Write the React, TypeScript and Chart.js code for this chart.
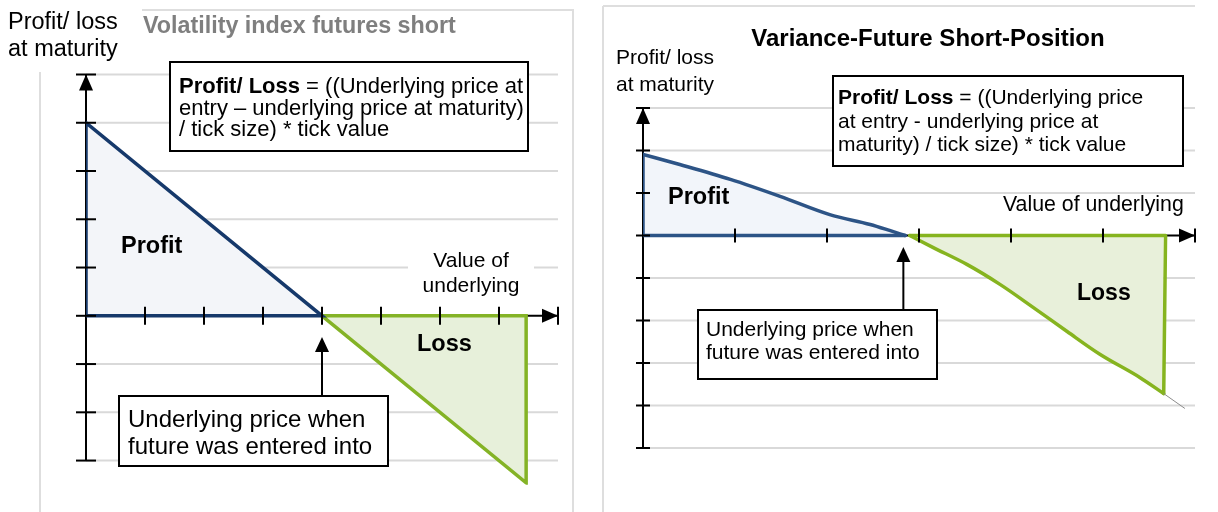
import React, { useEffect, useRef } from "react";
import { Chart, registerables } from "chart.js";

Chart.register(...registerables);

// ---------- Left panel: Volatility index futures short ----------
const leftProfitX = [0, 0, 4, 0];
const leftProfitY = [0, 4, 0, 0];
const leftLossX = [4, 7.46, 7.46, 4];
const leftLossY = [0, 0, -3.46, 0];
const leftYTicks = [5, 4, 3, 2, 1, 0, -1, -2, -3];
const leftXTicks = [1, 2, 3, 4, 5, 6, 7];
const leftEntry = 4;

// ---------- Right panel: Variance-Future Short-Position ----------
const rightProfitCurveX = [0, 0.4, 0.95, 1.49, 2.03, 2.47, 2.68, 2.85];
const rightProfitCurveY = [1.91, 1.67, 1.32, 0.92, 0.49, 0.26, 0.12, 0];
const rightProfitEdgeX = [2.85, 0, 0];
const rightProfitEdgeY = [0, 0, 1.91];
const rightLossCurveX = [2.9, 3.15, 3.52, 3.88, 4.24, 4.61, 4.97, 5.4, 5.66];
const rightLossCurveY = [0, -0.28, -0.68, -1.15, -1.69, -2.26, -2.8, -3.34, -3.72];
const rightLossEdgeX = [2.9, 5.68, 5.66];
const rightLossEdgeY = [0, 0, -3.72];
const rightTailX = [5.66, 5.89];
const rightTailY = [-3.72, -4.07];
const rightYTicks = [3, 2, 1, 0, -1, -2, -3, -4, -5];
const rightXTicks = [1, 2, 3, 4, 5];
const rightEntry = 2.83;

const FONT = '"Liberation Sans", Arial, Helvetica, sans-serif';

const pts = (xs: number[], ys: number[]) => xs.map((x, i) => ({ x, y: ys[i] }));

function line(ctx: CanvasRenderingContext2D, x1: number, y1: number, x2: number, y2: number) {
  ctx.beginPath();
  ctx.moveTo(x1, y1);
  ctx.lineTo(x2, y2);
  ctx.stroke();
}

function tri(ctx: CanvasRenderingContext2D, p: number[][]) {
  ctx.beginPath();
  ctx.moveTo(p[0][0], p[0][1]);
  ctx.lineTo(p[1][0], p[1][1]);
  ctx.lineTo(p[2][0], p[2][1]);
  ctx.closePath();
  ctx.fill();
}

type Run = { t: string; bold?: boolean };
type TextLine = { runs: Run[]; x: number; y: number; size: number; color?: string; align?: CanvasTextAlign };

function drawText(ctx: CanvasRenderingContext2D, l: TextLine) {
  ctx.textBaseline = "middle";
  ctx.fillStyle = l.color || "#000";
  if (l.align === "center") {
    ctx.textAlign = "center";
    ctx.font = `${l.runs[0].bold ? "bold " : ""}${l.size}px ${FONT}`;
    ctx.fillText(l.runs[0].t, l.x, l.y);
    return;
  }
  ctx.textAlign = "left";
  let x = l.x;
  for (const r of l.runs) {
    ctx.font = `${r.bold ? "bold " : ""}${l.size}px ${FONT}`;
    ctx.fillText(r.t, x, l.y);
    x += ctx.measureText(r.t).width;
  }
}

type Cfg = {
  borders: number[][];
  yTicks: number[];
  xTicks: number[];
  xEnd: number;
  yTickLen: number;
  xTickLen: number;
  gridWidth: number;
  entry: number;
  entryTipY: number;
  entryBoxTop: number;
  boxes: number[][];
  whiteRects: number[][];
  texts: TextLine[];
};

function makeDecor(cfg: Cfg) {
  return {
    id: "decor",
    beforeDatasetsDraw(chart: any) {
      const ctx: CanvasRenderingContext2D = chart.ctx;
      const xs = chart.scales.x;
      const ys = chart.scales.y;
      const x0 = xs.getPixelForValue(0);
      const xe = xs.getPixelForValue(cfg.xEnd);
      const y0 = ys.getPixelForValue(0);
      ctx.save();
      ctx.lineCap = "butt";
      ctx.strokeStyle = "#dedede";
      ctx.lineWidth = 2;
      for (const b of cfg.borders) line(ctx, b[0], b[1], b[2], b[3]);
      ctx.strokeStyle = "#d9d9d9";
      ctx.lineWidth = cfg.gridWidth;
      for (const v of cfg.yTicks) {
        if (v === 0) continue;
        const y = ys.getPixelForValue(v);
        line(ctx, x0, y, xe, y);
      }
      ctx.fillStyle = "#fff";
      for (const r of cfg.whiteRects) ctx.fillRect(r[0], r[1], r[2], r[3]);
      ctx.strokeStyle = "#000";
      ctx.lineWidth = 2;
      const yTop = ys.getPixelForValue(cfg.yTicks[0]);
      const yBot = ys.getPixelForValue(cfg.yTicks[cfg.yTicks.length - 1]);
      line(ctx, x0, yTop, x0, yBot);
      line(ctx, x0, y0, xe, y0);
      ctx.restore();
    },
    afterDatasetsDraw(chart: any) {
      const ctx: CanvasRenderingContext2D = chart.ctx;
      const xs = chart.scales.x;
      const ys = chart.scales.y;
      const x0 = xs.getPixelForValue(0);
      const xe = xs.getPixelForValue(cfg.xEnd);
      const y0 = ys.getPixelForValue(0);
      ctx.save();
      ctx.strokeStyle = "#000";
      ctx.fillStyle = "#000";
      ctx.lineWidth = 2;
      const yl = cfg.yTickLen;
      const xl = cfg.xTickLen;
      for (const v of cfg.yTicks) {
        const y = ys.getPixelForValue(v);
        line(ctx, x0 - yl, y, x0 + yl, y);
      }
      const yTop = ys.getPixelForValue(cfg.yTicks[0]);
      tri(ctx, [[x0, yTop], [x0 - 7, yTop + 16], [x0 + 7, yTop + 16]]);
      for (const v of cfg.xTicks) {
        const x = xs.getPixelForValue(v);
        line(ctx, x, y0 - xl, x, y0 + xl);
      }
      line(ctx, xe, y0 - xl, xe, y0 + xl);
      tri(ctx, [[xe, y0], [xe - 16, y0 - 7], [xe - 16, y0 + 7]]);
      const ex = xs.getPixelForValue(cfg.entry);
      line(ctx, ex, cfg.entryTipY + 12, ex, cfg.entryBoxTop);
      tri(ctx, [[ex, cfg.entryTipY], [ex - 7, cfg.entryTipY + 15], [ex + 7, cfg.entryTipY + 15]]);
      for (const b of cfg.boxes) {
        ctx.fillStyle = "#fff";
        ctx.fillRect(b[0], b[1], b[2] - b[0], b[3] - b[1]);
        ctx.strokeStyle = "#000";
        ctx.lineWidth = 2;
        ctx.strokeRect(b[0], b[1], b[2] - b[0], b[3] - b[1]);
      }
      for (const t of cfg.texts) drawText(ctx, t);
      ctx.restore();
    },
  };
}

function makeChart(
  canvas: HTMLCanvasElement,
  datasets: any[],
  xMax: number,
  yMin: number,
  yMax: number,
  padding: any,
  cfg: Cfg
) {
  return new Chart(canvas, {
    type: "line",
    data: { datasets },
    options: {
      responsive: false,
      animation: false,
      devicePixelRatio: 1,
      layout: { padding },
      plugins: { legend: { display: false }, tooltip: { enabled: false } },
      elements: { point: { radius: 0 }, line: { tension: 0 } },
      scales: {
        x: { type: "linear", min: 0, max: xMax, display: false },
        y: { type: "linear", min: yMin, max: yMax, display: false },
      },
    },
    plugins: [makeDecor(cfg)],
  });
}

export default function App() {
  const leftRef = useRef<HTMLCanvasElement>(null);
  const rightRef = useRef<HTMLCanvasElement>(null);

  useEffect(() => {
    const leftCfg: Cfg = {
      borders: [
        [142, 10, 574, 10],
        [573, 10, 573, 512],
        [40, 72, 40, 512],
      ],
      yTicks: leftYTicks,
      xTicks: leftXTicks,
      xEnd: 8,
      yTickLen: 10,
      xTickLen: 9,
      gridWidth: 2,
      entry: leftEntry,
      entryTipY: 337,
      entryBoxTop: 396,
      boxes: [
        [170, 62, 528, 151],
        [119, 396, 388, 466],
      ],
      whiteRects: [[408, 252, 126, 44]],
      texts: [
        { runs: [{ t: "Profit/ loss" }], x: 8, y: 23, size: 23.5 },
        { runs: [{ t: "at maturity" }], x: 8, y: 50, size: 23.5 },
        { runs: [{ t: "Volatility index futures short", bold: true }], x: 143, y: 27, size: 23.3, color: "#7f7f7f" },
        { runs: [{ t: "Profit/ Loss", bold: true }, { t: " = ((Underlying price at" }], x: 179, y: 87, size: 22 },
        { runs: [{ t: "entry \u2013 underlying price at maturity)" }], x: 179, y: 109, size: 22 },
        { runs: [{ t: "/ tick size) * tick value" }], x: 179, y: 130, size: 22 },
        { runs: [{ t: "Profit", bold: true }], x: 121, y: 247, size: 23.5 },
        { runs: [{ t: "Loss", bold: true }], x: 417, y: 345, size: 23.5 },
        { runs: [{ t: "Value of" }], x: 471, y: 261, size: 21, align: "center" },
        { runs: [{ t: "underlying" }], x: 471, y: 286, size: 21, align: "center" },
        { runs: [{ t: "Underlying price when" }], x: 128, y: 420, size: 24 },
        { runs: [{ t: "future was entered into" }], x: 128, y: 447, size: 24 },
      ],
    };

    const rightCfg: Cfg = {
      borders: [
        [8, 6, 600, 6],
        [8, 6, 8, 512],
      ],
      yTicks: rightYTicks,
      xTicks: rightXTicks,
      xEnd: 6,
      yTickLen: 7,
      xTickLen: 7,
      gridWidth: 2,
      entry: rightEntry,
      entryTipY: 247,
      entryBoxTop: 310,
      boxes: [
        [238, 76, 588, 166],
        [103, 310, 342, 379],
      ],
      whiteRects: [],
      texts: [
        { runs: [{ t: "Variance-Future Short-Position", bold: true }], x: 333, y: 39, size: 24, align: "center" },
        { runs: [{ t: "Profit/ loss" }], x: 21, y: 58, size: 21 },
        { runs: [{ t: "at maturity" }], x: 21, y: 85, size: 21 },
        { runs: [{ t: "Profit/ Loss", bold: true }, { t: " = ((Underlying price" }], x: 243, y: 98, size: 21 },
        { runs: [{ t: "at entry - underlying price at" }], x: 243, y: 122, size: 21 },
        { runs: [{ t: "maturity) / tick size) * tick value" }], x: 243, y: 145, size: 21 },
        { runs: [{ t: "Profit", bold: true }], x: 73, y: 198, size: 23.5 },
        { runs: [{ t: "Value of underlying" }], x: 408, y: 205, size: 21.3 },
        { runs: [{ t: "Loss", bold: true }], x: 482, y: 294, size: 23 },
        { runs: [{ t: "Underlying price when" }], x: 111, y: 330, size: 21 },
        { runs: [{ t: "future was entered into" }], x: 111, y: 353, size: 21 },
      ],
    };

    const left = makeChart(
      leftRef.current!,
      [
        {
          data: pts(leftProfitX, leftProfitY),
          borderColor: "#16396b",
          backgroundColor: "#f3f5f9",
          borderWidth: 3.5,
          fill: "shape",
          borderJoinStyle: "miter",
        },
        {
          data: pts(leftLossX, leftLossY),
          borderColor: "#84b326",
          backgroundColor: "#e7f0da",
          borderWidth: 3.5,
          fill: "shape",
          borderJoinStyle: "miter",
        },
      ],
      8,
      -3.5,
      5,
      { left: 86, right: 32, top: 74.5, bottom: 27.3 },
      leftCfg
    );

    const right = makeChart(
      rightRef.current!,
      [
        {
          data: pts(rightTailX, rightTailY),
          borderColor: "#8c8c8c",
          borderWidth: 1,
          fill: false,
        },
        {
          data: pts(rightProfitEdgeX, rightProfitEdgeY),
          borderColor: "#2d5486",
          borderWidth: 3.5,
          fill: false,
          borderJoinStyle: "round",
          borderCapStyle: "round",
        },
        {
          data: pts(rightProfitCurveX, rightProfitCurveY),
          borderColor: "#2d5486",
          backgroundColor: "#f2f5fa",
          borderWidth: 3.5,
          fill: "origin",
          cubicInterpolationMode: "monotone",
          borderCapStyle: "round",
        },
        {
          data: pts(rightLossEdgeX, rightLossEdgeY),
          borderColor: "#86b41f",
          borderWidth: 3.5,
          fill: false,
          borderJoinStyle: "round",
          borderCapStyle: "round",
        },
        {
          data: pts(rightLossCurveX, rightLossCurveY),
          borderColor: "#86b41f",
          backgroundColor: "#e8f0da",
          borderWidth: 3.5,
          fill: "origin",
          cubicInterpolationMode: "monotone",
          borderCapStyle: "round",
        },
      ],
      6,
      -5,
      3,
      { left: 48, right: 23, top: 108, bottom: 64 },
      rightCfg
    );

    return () => {
      left.destroy();
      right.destroy();
    };
  }, []);

  return (
    <div
      style={{
        position: "fixed",
        left: 0,
        top: 0,
        width: 1218,
        height: 512,
        background: "#fff",
        overflow: "hidden",
      }}
    >
      <canvas
        ref={leftRef}
        width={590}
        height={512}
        style={{ position: "absolute", left: 0, top: 0, width: 590, height: 512 }}
      />
      <canvas
        ref={rightRef}
        width={623}
        height={512}
        style={{ position: "absolute", left: 595, top: 0, width: 623, height: 512 }}
      />
    </div>
  );
}
